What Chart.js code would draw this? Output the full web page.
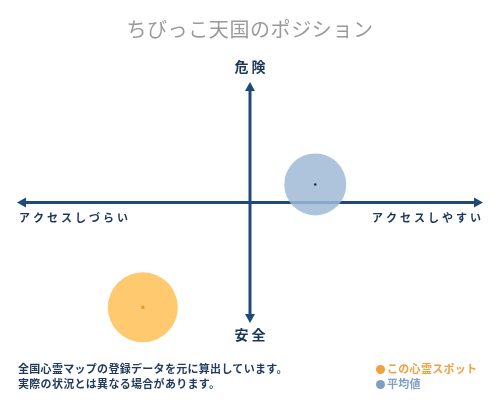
<!DOCTYPE html>
<html>
<head>
<meta charset="utf-8">
<script src="https://cdn.jsdelivr.net/npm/chart.js@4"></script>
<style>
  body { margin: 0; background: #fff; }
  #wrap { position: relative; width: 500px; height: 400px; font-family: "Noto Sans CJK JP", sans-serif; }
  #chart { position: absolute; left: 0; top: 0; }
  #title { position: absolute; left: 0; top: 15px; width: 500px; text-align: center; font-size: 20px; color: #9a9a9a; letter-spacing: 0.6px; line-height: 28px; }
  .note { position: absolute; left: 18px; font-size: 11px; color: #1f3a5c; font-weight: bold; letter-spacing: 0.3px; line-height: 14px; }
  .leg { position: absolute; left: 376px; font-size: 11px; font-weight: bold; letter-spacing: 0.3px; line-height: 14px; }
  .dot { display: inline-block; width: 9px; height: 9px; border-radius: 50%; margin-right: 2px; vertical-align: -1px; }
</style>
</head>
<body>
<div id="wrap">
  <canvas id="chart" width="500" height="400"></canvas>
  <div id="title">ちびっこ天国のポジション</div>
  <div class="note" style="top:361px">全国心霊マップの登録データを元に算出しています。</div>
  <div class="note" style="top:376px">実際の状況とは異なる場合があります。</div>
  <div class="leg" style="top:361px;color:#f0a040"><span class="dot" style="background:#f0a040"></span>この心霊スポット</div>
  <div class="leg" style="top:376px;color:#7f9fc2"><span class="dot" style="background:#7f9fc2"></span>平均値</div>
</div>
<script>
// position values (x: access easy +, y: danger +)
const seriesNames = ['この心霊スポット', '平均値'];
const spotX = [-0.46];
const spotY = [-0.87];
const avgX = [0.28];
const avgY = [0.15];
const axisLabels = { top: '危 険', bottom: '安 全', left: 'アクセスしづらい', right: 'アクセスしやすい' };

const toPoints = (xs, ys) => xs.map((x, i) => ({ x: x, y: ys[i] }));

const navy = '#1d4a78';

// draws the cross-shaped axes with arrow heads and their labels
const axesPlugin = {
    id: 'crossAxes',
    beforeDatasetsDraw(chart) {
        const { ctx, scales: { x, y } } = chart;
        const x0 = x.getPixelForValue(0), y0 = y.getPixelForValue(0);
        const l = x.getPixelForValue(-1), r = x.getPixelForValue(1);
        const t = y.getPixelForValue(1), b = y.getPixelForValue(-1);
        ctx.save();
        ctx.strokeStyle = navy;
        ctx.fillStyle = navy;
        ctx.lineWidth = 3;
        ctx.beginPath();
        ctx.moveTo(l + 4, y0); ctx.lineTo(r - 4, y0);
        ctx.moveTo(x0, t + 4); ctx.lineTo(x0, b - 4);
        ctx.stroke();
        const head = (px, py, dx, dy) => {
            ctx.beginPath();
            ctx.moveTo(px, py);
            ctx.lineTo(px - dx * 9 - dy * 5, py - dy * 9 - dx * 5);
            ctx.lineTo(px - dx * 9 + dy * 5, py - dy * 9 + dx * 5);
            ctx.closePath();
            ctx.fill();
        };
        head(l, y0, -1, 0);
        head(r, y0, 1, 0);
        head(x0, t, 0, -1);
        head(x0, b, 0, 1);
        ctx.restore();
    },
    afterDraw(chart) {
        const { ctx, scales: { x, y } } = chart;
        const x0 = x.getPixelForValue(0), y0 = y.getPixelForValue(0);
        const l = x.getPixelForValue(-1), r = x.getPixelForValue(1);
        const t = y.getPixelForValue(1), b = y.getPixelForValue(-1);
        ctx.save();
        ctx.fillStyle = '#1a3656';
        ctx.textBaseline = 'middle';
        ctx.font = 'bold 14px "Noto Sans CJK JP"';
        ctx.textAlign = 'center';
        ctx.fillText(axisLabels.top, x0, t - 15);
        ctx.fillText(axisLabels.bottom, x0, b + 12);
        ctx.font = 'bold 11px "Noto Sans CJK JP"';
        ctx.letterSpacing = '3px';
        ctx.textAlign = 'left';
        ctx.fillText(axisLabels.left, l + 2, y0 + 15);
        ctx.textAlign = 'right';
        ctx.fillText(axisLabels.right, r + 1, y0 + 15);
        ctx.restore();
    }
};

new Chart(document.getElementById('chart'), {
    type: 'bubble',
    data: {
        datasets: [
            {
                label: seriesNames[0] + ' center',
                type: 'scatter',
                data: toPoints(spotX, spotY),
                pointStyle: 'crossRot',
                pointRadius: 2,
                borderColor: '#e89a20',
                borderWidth: 1.5,
                clip: false
            },
            {
                label: seriesNames[1] + ' center',
                type: 'scatter',
                data: toPoints(avgX, avgY),
                pointRadius: 1.2,
                backgroundColor: '#222',
                borderWidth: 0,
                clip: false
            },
            {
                label: seriesNames[0],
                data: toPoints(spotX, spotY).map(p => ({ ...p, r: 35 })),
                backgroundColor: 'rgba(255, 195, 95, 0.9)',
                borderWidth: 0,
                clip: false
            },
            {
                label: seriesNames[1],
                data: toPoints(avgX, avgY).map(p => ({ ...p, r: 31 })),
                backgroundColor: 'rgba(160, 185, 214, 0.85)',
                borderWidth: 0,
                clip: false
            }
        ]
    },
    options: {
        responsive: false,
        animation: false,
        layout: { autoPadding: false, padding: { top: 82, bottom: 77, left: 17, right: 17 } },
        scales: {
            x: { type: 'linear', min: -1, max: 1, display: false },
            y: { type: 'linear', min: -1, max: 1, display: false }
        },
        plugins: {
            legend: { display: false },
            tooltip: { enabled: false }
        }
    },
    plugins: [axesPlugin]
});
</script>
</body>
</html>
